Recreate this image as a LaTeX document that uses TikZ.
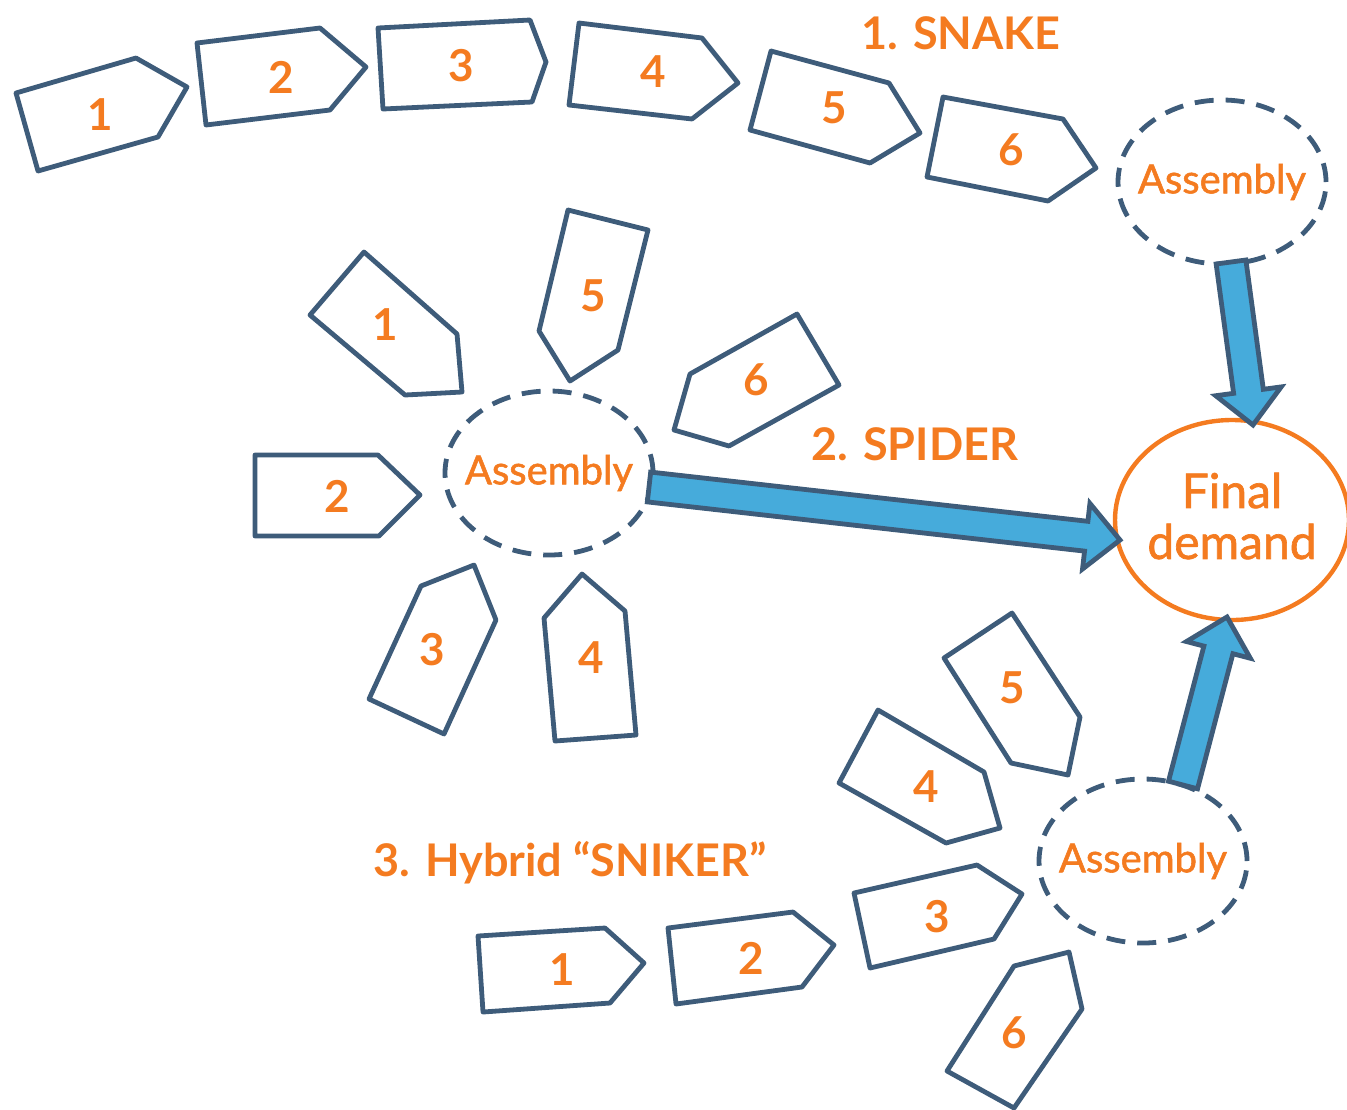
\documentclass[tikz,border=0pt]{standalone}
\usepackage{fontspec}
\setmainfont{Lato}
\newfontfamily\medfont{Lato}[FakeBold=1.4]
\usetikzlibrary{calc,shapes.geometric}
\definecolor{slate}{HTML}{3E5C7A}
\definecolor{orng}{HTML}{F47B20}
\definecolor{sky}{HTML}{46ABDB}
\tikzset{
  box/.style={draw=slate, line width=2.4pt, line join=round, fill=white},
  num/.style={text=orng, inner sep=0pt, font=\bfseries\fontsize{22}{24}\selectfont},
  title/.style={text=orng, inner sep=0pt, anchor=base, font=\bfseries\fontsize{22.5}{24}\selectfont},
  asm/.style={ellipse, draw=slate, line width=2.4pt, dash pattern=on 9.5pt off 6pt,
    minimum width=104pt, minimum height=82pt, inner sep=0pt},
  asmtxt/.style={text=orng, inner sep=0pt, font=\medfont\fontsize{20}{24}\selectfont},
  fdem/.style={ellipse, draw=orng, line width=2.2pt, minimum width=117pt, minimum height=100pt,
    inner sep=0pt},
  fdtxt/.style={text=orng, inner sep=0pt, align=center, font=\medfont\fontsize{24}{25.5}\selectfont},
  barrow/.style={draw=slate, fill=sky, line width=2.4pt, line join=miter},
}
\newcommand{\blockarr}[2]{%
  \coordinate (hb) at ($(#2)!17pt!(#1)$);
  \draw[barrow] ($(#1)!7.5pt!90:(#2)$) -- ($(hb)!7.5pt!-90:(#1)$) -- ($(hb)!16.5pt!-90:(#1)$)
    -- (#2) -- ($(hb)!16.5pt!90:(#1)$) -- ($(hb)!7.5pt!90:(#1)$) -- ($(#1)!7.5pt!-90:(#2)$) -- cycle;}
\begin{document}
\begin{tikzpicture}[x=0.5pt,y=-0.5pt]
\useasboundingbox (0,0) rectangle (1347,1109);

% ---------- 1. SNAKE ----------
\node[title] (snaketitle) at (961,49) {1. SNAKE};
\draw[box] (16,93) -- (136,58) -- (187,87) -- (158,137) -- (38,171) -- cycle;
\node[num] (sn1) at (100,115) {1};
\draw[box] (197,43) -- (320,28) -- (366,67) -- (330,110) -- (206,125) -- cycle;
\node[num] (sn2) at (281,77) {2};
\draw[box] (378,28) -- (530,20) -- (546,62) -- (532,102) -- (383,109) -- cycle;
\node[num] (sn3) at (461,66) {3};
\draw[box] (579,23) -- (702,38) -- (738,83) -- (692,119) -- (569,105) -- cycle;
\node[num] (sn4) at (653,72) {4};
\draw[box] (771,51) -- (889,83) -- (920,133) -- (870,163) -- (750,130) -- cycle;
\node[num] (sn5) at (834,108) {5};
\draw[box] (943,97) -- (1063,119) -- (1096,168) -- (1048,201) -- (927,177) -- cycle;
\node[num] (sn6) at (1011,150) {6};
\node[asm] (asm1) at (1222,182) {};
\node[asmtxt] (asm1t) at (asm1.center) {Assembly};

% ---------- 2. SPIDER ----------
\node[title] (spidertitle) at (915,460) {2. SPIDER};
\draw[box] (364,252) -- (457,334) -- (462,392) -- (405,395) -- (310,315) -- cycle;
\node[num] (sp1) at (385,325) {1};
\draw[box] (255,455) -- (378,455) -- (420,495) -- (379,536) -- (255,536) -- cycle;
\node[num] (sp2) at (337,496) {2};
\draw[box] (474,565) -- (496,620) -- (444,734) -- (369,699) -- (421,586) -- cycle;
\node[num] (sp3) at (432,650) {3};
\draw[box] (582,574) -- (625,611) -- (636,735) -- (555,741) -- (544,618) -- cycle;
\node[num] (sp4) at (591,658) {4};
\draw[box] (568,210) -- (648,230) -- (618,350) -- (570,381) -- (539,331) -- cycle;
\node[num] (sp5) at (593,296) {5};
\draw[box] (797,314) -- (839,385) -- (729,446) -- (674,430) -- (690,374) -- cycle;
\node[num] (sp6) at (756,380) {6};
\node[asm] (asm2) at (549,473) {};
\node[asmtxt] (asm2t) at (asm2.center) {Assembly};

% ---------- 3. Hybrid ----------
\node[title] (hybridtitle) at (570,876) {3. Hybrid “SNIKER”};
\draw[box] (478,936) -- (605,928) -- (644,963) -- (610,1003) -- (483,1012) -- cycle;
\node[num] (hy1) at (562,970) {1};
\draw[box] (668,928) -- (793,912) -- (834,945) -- (802,987) -- (676,1004) -- cycle;
\node[num] (hy2) at (751,958) {2};
\draw[box] (854,893) -- (977,865) -- (1022,894) -- (994,939) -- (870,968) -- cycle;
\node[num] (hy3) at (937,917) {3};
\draw[box] (878,710) -- (984,772) -- (1000,828) -- (946,843) -- (839,783) -- cycle;
\node[num] (hy4) at (926,787) {4};
\draw[box] (1012,613) -- (1080,717) -- (1068,775) -- (1011,763) -- (944,658) -- cycle;
\node[num] (hy5) at (1012,688) {5};
\draw[box] (1069,952) -- (1082,1009) -- (1014,1108) -- (947,1071) -- (1014,966) -- cycle;
\node[num] (hy6) at (1014,1033) {6};
\node[asm] (asm3) at (1143,861) {};
\node[asmtxt] (asm3t) at (asm3.center) {Assembly};

% ---------- Final demand ----------
\node[fdem] (fd) at (1232,520) {};
\node[fdtxt] (fdt) at ([yshift=2pt]fd.center) {Final\\demand};

% ---------- arrows ----------
\coordinate (a1s) at (1231,262);
\coordinate (a1t) at (1253,425);
\coordinate (a2s) at (649,487);
\coordinate (a2t) at (1120,540);
\coordinate (a3s) at (1183,785);
\coordinate (a3t) at (1227,617);
\blockarr{a1s}{a1t}
\blockarr{a2s}{a2t}
\blockarr{a3s}{a3t}
\end{tikzpicture}
\end{document}
